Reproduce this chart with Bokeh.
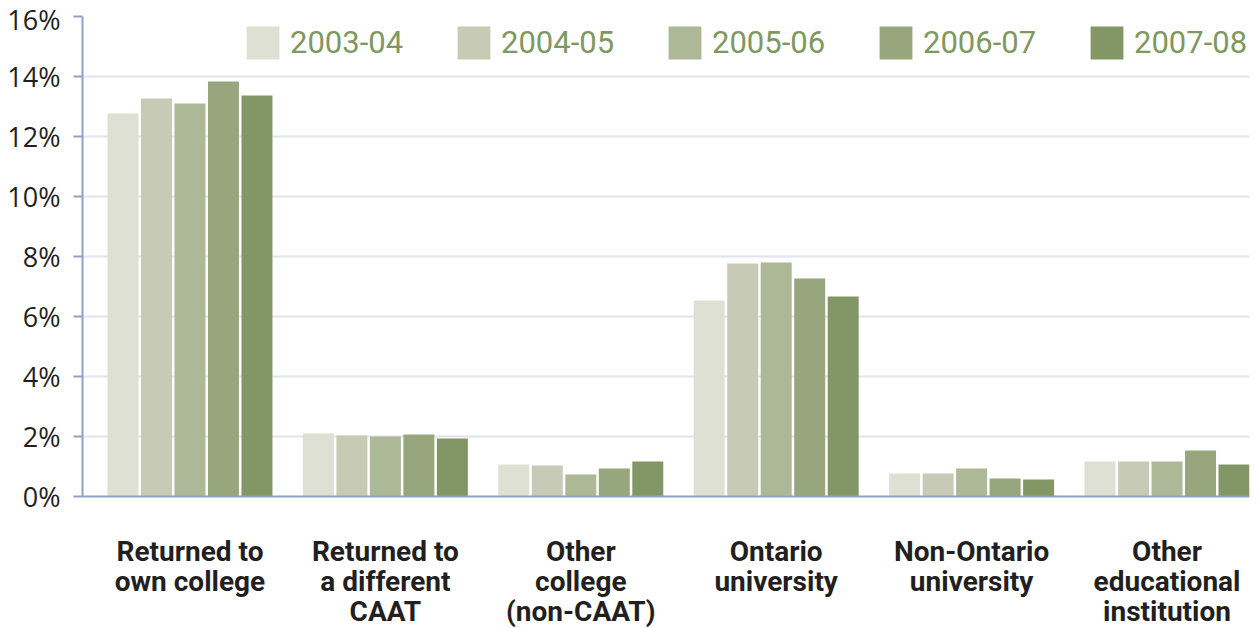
import numpy as np
from bokeh.plotting import figure
from bokeh.models import Range1d, FixedTicker, PrintfTickFormatter, Legend, LegendItem
from bokeh.embed import file_html
from bokeh.resources import INLINE

categories = ["Returned to\nown college", "Returned to\na different\nCAAT", "Other\ncollege\n(non-CAAT)",
              "Ontario\nuniversity", "Non-Ontario\nuniversity", "Other\neducational\ninstitution"]
years = ["2003-04", "2004-05", "2005-06", "2006-07", "2007-08"]
v2003 = [12.77, 2.10, 1.07, 6.53, 0.77, 1.17]
v2004 = [13.27, 2.03, 1.03, 7.77, 0.77, 1.17]
v2005 = [13.10, 2.00, 0.73, 7.80, 0.93, 1.17]
v2006 = [13.83, 2.07, 0.93, 7.27, 0.60, 1.53]
v2007 = [13.37, 1.93, 1.17, 6.67, 0.57, 1.07]
series = [v2003, v2004, v2005, v2006, v2007]
colors = ["#dfe0d4", "#c7cbb5", "#adb897", "#97a67c", "#839766"]
yticks = [0, 2, 4, 6, 8, 10, 12, 14, 16]

p = figure(frame_width=1167, frame_height=480, output_backend="svg", toolbar_location=None,
           x_range=Range1d(-0.55, 5.422), y_range=Range1d(0, 16),
           min_border_left=82, min_border_right=8, min_border_top=16, min_border_bottom=10)
p.outline_line_color = None
p.background_fill_color = "white"

step = 0.1714
bw = 0.1586
xs = np.arange(len(categories))
items = []
for j, (vals, col) in enumerate(zip(series, colors)):
    r = p.vbar(x=xs + (j - 2) * step, top=vals, width=bw, fill_color=col, line_color=None)
    items.append(LegendItem(label=years[j], renderers=[r]))

legend = Legend(items=items, orientation="horizontal", location=(160, 429),
                glyph_width=41, glyph_height=41, label_standoff=7, label_width=156,
                spacing=7, padding=0, margin=0,
                background_fill_alpha=0, border_line_color=None,
                label_text_font="Roboto", label_text_font_size="31px",
                label_text_color="#7f985f", label_height=49)
p.add_layout(legend, "center")

# y axis
p.yaxis.ticker = FixedTicker(ticks=yticks)
p.yaxis.formatter = PrintfTickFormatter(format="%d%%")
p.yaxis.axis_line_color = "#8aa4c9"
p.yaxis.axis_line_width = 2
p.yaxis.major_tick_line_color = "#8aa4c9"
p.yaxis.major_tick_line_width = 2
p.yaxis.major_tick_out = 9
p.yaxis.major_tick_in = 0
p.yaxis.minor_tick_line_color = None
p.yaxis.major_label_text_font = "Open Sans"
p.yaxis.major_label_text_font_size = "27px"
p.yaxis.major_label_text_color = "#231f20"
p.yaxis.major_label_standoff = 13

# x axis
p.xaxis.ticker = FixedTicker(ticks=list(range(len(categories))))
p.xaxis.major_label_overrides = {i: c for i, c in enumerate(categories)}
p.xaxis.axis_line_color = "#8aa4c9"
p.xaxis.axis_line_width = 2
p.xaxis.major_tick_line_color = None
p.xaxis.major_tick_out = 0
p.xaxis.major_tick_in = 0
p.xaxis.minor_tick_line_color = None
p.xaxis.major_label_text_font = "Roboto"
p.xaxis.major_label_text_font_style = "bold"
p.xaxis.major_label_text_font_size = "28px"
p.xaxis.major_label_text_line_height = 0.92
p.xaxis.major_label_text_color = "#231f20"
p.xaxis.major_label_standoff = 38

p.xgrid.grid_line_color = None
p.ygrid.grid_line_color = "#dfe4ef"
p.ygrid.grid_line_width = 2

open("out.html", "w").write(file_html(p, INLINE))
